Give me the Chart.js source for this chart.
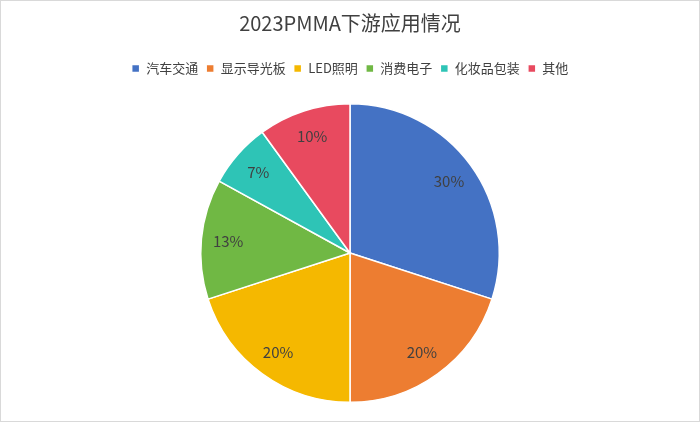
<!DOCTYPE html>
<html>
<head>
<meta charset="utf-8">
<script src="https://cdn.jsdelivr.net/npm/chart.js@4"></script>
<style>
  html, body { margin: 0; padding: 0; background: #fff; }
  #wrap { width: 698px; height: 420px; border: 1px solid #d9d9d9; }
</style>
</head>
<body>
<div id="wrap"><canvas id="c" width="698" height="420"></canvas></div>
<script>
const categories = ['汽车交通', '显示导光板', 'LED照明', '消费电子', '化妆品包装', '其他'];
const shares = [30, 20, 20, 13, 7, 10];
const colors = ['#4472C4', '#ED7D31', '#F5B800', '#70B844', '#2EC4B6', '#E84A5F'];

const pctLabels = {
  id: 'pctLabels',
  afterDatasetsDraw(chart) {
    let ctx = chart.ctx;
    let meta = chart.getDatasetMeta(0);
    ctx.save();
    ctx.font = '15px "Noto Sans CJK SC", "Noto Sans", sans-serif';
    ctx.fillStyle = '#404040';
    ctx.textAlign = 'center';
    ctx.textBaseline = 'middle';
    meta.data.forEach((arc, i) => {
      let mid = (arc.startAngle + arc.endAngle) / 2;
      let r = arc.outerRadius * 0.82;
      ctx.fillText(shares[i] + '%', arc.x + Math.cos(mid) * r, arc.y + Math.sin(mid) * r);
    });
    ctx.restore();
  }
};

// leave a gap under the legend like the original
const legendGap = {
  id: 'legendGap',
  beforeInit(chart) {
    let fit = chart.legend.fit;
    chart.legend.fit = function() {
      fit.bind(chart.legend)();
      this.height += 18;
    };
  }
};

new Chart(document.getElementById('c'), {
  type: 'pie',
  data: {
    labels: categories,
    datasets: [{
      data: shares,
      backgroundColor: colors,
      borderColor: '#fff',
      borderWidth: 1.5
    }]
  },
  options: {
    responsive: false,
    animation: false,
    layout: { padding: { top: 6, bottom: 18 } },
    plugins: {
      title: {
        display: true,
        text: '2023PMMA下游应用情况',
        color: '#404040',
        font: { size: 20, weight: 'normal', family: '"Noto Sans CJK SC", sans-serif' },
        padding: { top: 4, bottom: 19 }
      },
      legend: {
        position: 'top',
        labels: {
          color: '#404040',
          boxWidth: 8,
          boxHeight: 8,
          padding: 8,
          font: { size: 13, family: '"Noto Sans CJK SC", sans-serif' }
        }
      },
      tooltip: { enabled: false }
    }
  },
  plugins: [legendGap, pctLabels]
});
</script>
</body>
</html>
